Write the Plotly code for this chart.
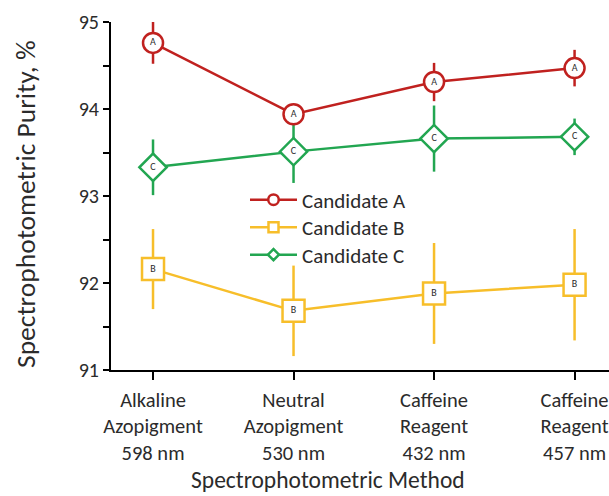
import plotly.graph_objects as go

# Spectrophotometric methods (x categories)
methods = [
    "Alkaline<br>Azopigment<br>598 nm",
    "Neutral<br>Azopigment<br>530 nm",
    "Caffeine<br>Reagent<br>432 nm",
    "Caffeine<br>Reagent<br>457 nm",
]
method_pos = [0, 1, 2, 3]

# Purity (%) and error (±) per candidate
cand_a = [94.76, 93.94, 94.31, 94.47]
cand_a_err = [0.24, 0.10, 0.22, 0.21]
cand_b = [92.16, 91.68, 91.88, 91.98]
cand_b_err = [0.46, 0.52, 0.58, 0.64]
cand_c = [93.33, 93.51, 93.66, 93.68]
cand_c_err = [0.32, 0.36, 0.38, 0.21]

y_ticks = [91, 92, 93, 94, 95]

FONT = "Calibri, Carlito, Lato, sans-serif"
TXT = "#2b2b2b"
RED = "#C0211F"
GOLD = "#F7BE2A"
GREEN = "#22A651"

series = [
    # name, values, errors, colour, symbol, size, legend size, letter
    ("Candidate C", cand_c, cand_c_err, GREEN, "diamond", 21, 8.5, "C"),
    ("Candidate B", cand_b, cand_b_err, GOLD, "square", 22, 10, "B"),
    ("Candidate A", cand_a, cand_a_err, RED, "circle", 20, 10.5, "A"),
]

fig = go.Figure()

for name, vals, errs, col, sym, size, lsize, letter in series:
    fig.add_trace(go.Scatter(
        x=method_pos, y=vals, name=name, showlegend=False,
        mode="lines+markers+text",
        text=[letter] * len(vals), textposition="middle center",
        textfont=dict(family=FONT, size=10, color=TXT),
        line=dict(color=col, width=2.5),
        marker=dict(symbol=sym, size=size, color="white",
                    line=dict(color=col, width=2.5)),
        error_y=dict(type="data", array=errs, visible=True,
                     color=col, thickness=2.5, width=0),
        cliponaxis=False,
    ))

# one legend box per candidate, stacked (A, B, C)
legend_ids = ["legend", "legend2", "legend3"]
legend_rows = [200, 227.5, 255]
for lid, (name, vals, errs, col, sym, size, lsize, letter) in zip(
        legend_ids, reversed(series)):
    fig.add_trace(go.Scatter(
        x=[None], y=[None], name=name, legend=lid,
        mode="lines+markers",
        line=dict(color=col, width=2.5),
        marker=dict(symbol=sym, size=lsize, color="white",
                    line=dict(color=col, width=2.5)),
    ))

legend_style = dict(
    x=(245 - 111) / 498, xanchor="left", yanchor="middle",
    bgcolor="rgba(0,0,0,0)", borderwidth=0,
    font=dict(family=FONT, size=21, color=TXT),
    itemwidth=47,
)

fig.update_layout(
    width=609, height=496,
    margin=dict(l=111, r=0, t=22, b=126),
    paper_bgcolor="white", plot_bgcolor="white",
    font=dict(family=FONT, color=TXT),
    showlegend=True,
    xaxis=dict(
        range=[-0.299, 3.245],
        tickvals=method_pos, ticktext=methods,
        ticks="outside", ticklen=8, tickwidth=2, tickcolor="black",
        ticklabelstandoff=2,
        showline=True, linecolor="black", linewidth=2,
        showgrid=False, zeroline=False,
        tickfont=dict(family=FONT, size=20.5, color=TXT),
    ),
    xaxis2=dict(
        range=[-0.299, 3.245], overlaying="x", anchor="y", side="bottom",
        tickvals=method_pos, ticks="inside", ticklen=8, tickwidth=2,
        tickcolor="black", showticklabels=False, showline=False,
        showgrid=False, zeroline=False,
    ),
    yaxis=dict(
        range=[91, 95], tickvals=y_ticks,
        ticks="outside", ticklen=6, tickwidth=2, tickcolor="black",
        minor=dict(dtick=0.5, ticks="outside", ticklen=6, tickwidth=2,
                   tickcolor="black"),
        showline=True, linecolor="black", linewidth=2,
        showgrid=False, zeroline=False,
        tickfont=dict(family=FONT, size=20, color=TXT),
    ),
    # short stub of the x axis line to the left of the y axis
    shapes=[dict(
        type="line", xref="paper", yref="paper",
        x0=-6 / 498, x1=0, y0=0, y1=0,
        line=dict(color="black", width=2),
    )],
    annotations=[
        dict(
            text="Spectrophotometric Method", xref="paper", yref="paper",
            x=(328 - 111) / 498, y=(370 - 480) / 348,
            xanchor="center", yanchor="middle", showarrow=False,
            font=dict(family=FONT, size=23.5, color=TXT),
        ),
        dict(
            text="Spectrophotometric Purity, %", xref="paper", yref="paper",
            x=(25 - 111) / 498, y=(370 - 204) / 348, textangle=-90,
            xanchor="center", yanchor="middle", showarrow=False,
            font=dict(family=FONT, size=27.5, color=TXT),
        ),
    ],
)

for lid, row in zip(legend_ids, legend_rows):
    fig.update_layout({lid: dict(legend_style, y=(370 - row) / 348)})

fig.write_html("out.html")
